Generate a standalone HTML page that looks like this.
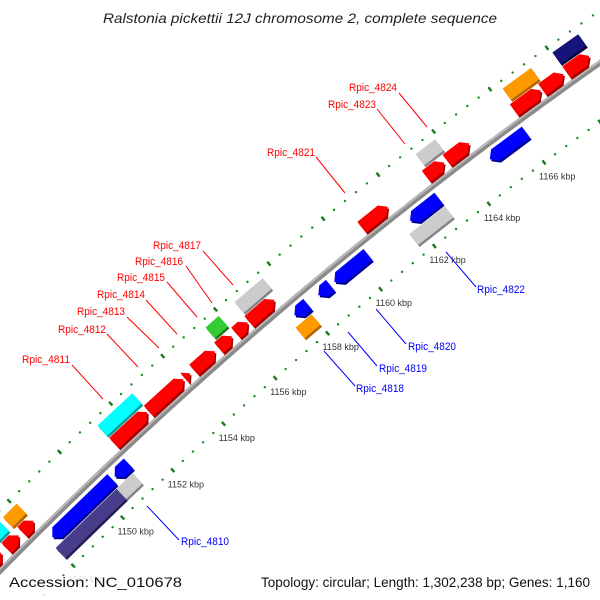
<!DOCTYPE html>
<html><head><meta charset="utf-8"><style>
html,body{margin:0;padding:0;background:#fff;width:600px;height:600px;overflow:hidden;}
svg{display:block;overflow:hidden;font-family:"Liberation Sans","DejaVu Sans",sans-serif;}
</style></head><body>
<svg id="map" width="600" height="600" viewBox="0 0 600 600" xmlns="http://www.w3.org/2000/svg">
<rect width="600" height="600" fill="#fff"/>
<g id="ticks"></g>
<g id="feats"></g>
<g id="labels"></g>
<text x="103" y="23" font-size="14" font-style="italic" fill="#222" textLength="394" lengthAdjust="spacingAndGlyphs">Ralstonia pickettii 12J chromosome 2, complete sequence</text>
<rect x="0" y="576" width="600" height="24" fill="#fff" opacity="0.85"/>
<text x="9" y="587" font-size="14" fill="#111" textLength="173" lengthAdjust="spacingAndGlyphs">Accession: NC_010678</text>
<text x="261" y="587" font-size="14" fill="#111" textLength="329" lengthAdjust="spacingAndGlyphs">Topology: circular; Length: 1,302,238 bp; Genes: 1,160</text>
</svg>
<script>
// ---- data (kbp) ----
const fwdStarts = [1146.0,1147.0,1147.65,1151.3,1152.65,1154.05,1154.4,1155.35,1156.0,1156.5,1160.7,1163.05,1163.8,1166.2,1167.2,1168.05];
const fwdEnds   = [1146.8,1147.5,1148.1,1152.6,1154.0,1154.25,1155.2,1155.85,1156.45,1157.45,1161.65,1163.7,1164.6,1167.15,1167.95,1168.85];
const fwd2Starts = [1146.6,1147.55,1151.3,1155.45,1156.55,1163.2,1166.3,1168.05];
const fwd2Ends   = [1147.4,1148.1,1152.65,1155.95,1157.6,1163.9,1167.3,1168.95];
const fwd2Types  = ["cyan","orange","cyan","green","gray","gray","orange","navy"];
const revStarts = [1148.15,1150.65,1157.6,1158.5,1159.1,1161.9,1164.8,1169.3];
const revEnds   = [1150.55,1151.2,1158.1,1158.95,1160.35,1162.95,1166.1,1170.5];
const rev2Starts = [1148.0,1150.45,1157.4,1161.65];
const rev2Ends   = [1150.5,1151.1,1158.0,1162.95];
const rev2Types  = ["purple","gray","orange","gray"];
const tickKbp = [1148,1150,1152,1154,1156,1158,1160,1162,1164,1166];
const tickLabels = ["1148 kbp","1150 kbp","1152 kbp","1154 kbp","1156 kbp","1158 kbp","1160 kbp","1162 kbp","1164 kbp","1166 kbp"];

// ---- geometry ----
const CX=3091, CY=3612, A0=-133.81, S=0.4606;
function pt(r,k){const a=(A0+S*(k-1150))*Math.PI/180;return [CX+r*Math.cos(a),CY+r*Math.sin(a)];}
const NS="http://www.w3.org/2000/svg";
const colors={red:["#ff0000","#a00000"],blue:["#0000ff","#000090"],cyan:["#00ffff","#009a9a"],orange:["#ff9900","#b06400"],green:["#33cc33","#1d7a1d"],gray:["#cccccc","#858585"],navy:["#14147a","#05053a"],purple:["#473d8b","#241d55"]};
const ticksG=document.getElementById('ticks'),featsG=document.getElementById('feats'),labG=document.getElementById('labels');

let bb=[];for(let k=1143;k<=1172.01;k+=0.25){bb.push(pt(4336,k).map(v=>v.toFixed(1)).join(','));}
const bbDark=document.createElementNS(NS,'polyline');
bbDark.setAttribute('points',bb.join(' '));
bbDark.setAttribute('fill','none');bbDark.setAttribute('stroke','#8a8a8a');bbDark.setAttribute('stroke-width','5.5');


ticksG.appendChild(bbDark);
let bb2=[];for(let k=1143;k<=1172.01;k+=0.25){bb2.push(pt(4337.5,k).map(v=>v.toFixed(1)).join(','));}
const bbLight=document.createElementNS(NS,'polyline');
bbLight.setAttribute('points',bb2.join(' '));
bbLight.setAttribute('fill','none');bbLight.setAttribute('stroke','#b8b8b8');bbLight.setAttribute('stroke-width','2');


ticksG.appendChild(bbLight);

[4288,4379].forEach(function(R){
  for(let k=1144;k<=1172.01;k+=0.4){
    const kk=Math.round(k*10)/10;
    const major=Math.abs(kk/2-Math.round(kk/2))<0.01;
    if(major){
      const a=pt(R-2.5,kk),b=pt(R+2.5,kk);
      const l=document.createElementNS(NS,'line');
      l.setAttribute('x1',a[0]);l.setAttribute('y1',a[1]);l.setAttribute('x2',b[0]);l.setAttribute('y2',b[1]);
      l.setAttribute('stroke','#1a7a1a');l.setAttribute('stroke-width','2.4');
      
      
      ticksG.appendChild(l);
    }else{
      const p=pt(R,kk);
      const c=document.createElementNS(NS,'circle');
      c.setAttribute('cx',p[0]);c.setAttribute('cy',p[1]);c.setAttribute('r','1.2');c.setAttribute('fill','#1a8a1a');
      
      
      ticksG.appendChild(c);
    }
  }
});
tickKbp.forEach(function(k,i){
  const p=pt(4288,k);
  const t=document.createElementNS(NS,'text');
  t.setAttribute('x',p[0]-5);t.setAttribute('y',p[1]+17);
  t.setAttribute('font-size','9');t.setAttribute('fill','#333');
  t.textContent=tickLabels[i];
  
  
  ticksG.appendChild(t);
});

function poly(pts,fill,name){
  const p=document.createElementNS(NS,'polygon');
  p.setAttribute('points',pts.map(q=>q[0].toFixed(1)+','+q[1].toFixed(1)).join(' '));
  p.setAttribute('fill',fill);
  
  
  featsG.appendChild(p);
  return p;
}
function shapePts(s,e,r1,r2,kind){
  const rm=(r1+r2)/2,head=Math.min(0.2,e-s);
  if(kind==='fwd') return [pt(r1,s),pt(r1,e-head),pt(rm,e),pt(r2,e-head),pt(r2,s)];
  if(kind==='rev') return [pt(rm,s),pt(r1,s+head),pt(r1,e),pt(r2,e),pt(r2,s+head)];
  return [pt(r1,s),pt(r1,e),pt(r2,e),pt(r2,s)];
}
function drawFeat(s,e,r1,r2,kind,col,name){
  const pts=shapePts(s,e,r1,r2,kind);
  poly(pts.map(q=>[q[0]+1.5,q[1]+2]),colors[col][1],name+'-shadow');
  poly(pts,colors[col][0],name);
}
fwdStarts.forEach((s,i)=>drawFeat(s,fwdEnds[i],4341,4355,'fwd','red','forward-gene'));
fwd2Starts.forEach((s,i)=>drawFeat(s,fwd2Ends[i],4358,4372,'box',fwd2Types[i],'forward-feature'));
revStarts.forEach((s,i)=>drawFeat(s,revEnds[i],4316,4330,'rev','blue','reverse-gene'));
rev2Starts.forEach((s,i)=>drawFeat(s,rev2Ends[i],4299,4313,'box',rev2Types[i],'reverse-feature'));

const labelDefs=[
 ["Rpic_4811",22,363,72,365,103,399,"#ff0000"],
 ["Rpic_4812",58,333,107,334,138,367,"#ff0000"],
 ["Rpic_4813",77,315,127,317,159,348,"#ff0000"],
 ["Rpic_4814",97,298,146,300,177,334,"#ff0000"],
 ["Rpic_4815",117,281,167,282,197,317,"#ff0000"],
 ["Rpic_4816",135,265,186,266,212,303,"#ff0000"],
 ["Rpic_4817",153,249,203,251,233,285,"#ff0000"],
 ["Rpic_4821",267,156,316,157,345,193,"#ff0000"],
 ["Rpic_4823",328,108,377,109,405,144,"#ff0000"],
 ["Rpic_4824",349,91,399,93,427,127,"#ff0000"],
 ["Rpic_4822",477,293,476,287,446,252,"#0000ff"],
 ["Rpic_4820",408,350,406,344,376,309,"#0000ff"],
 ["Rpic_4819",379,372,377,366,348,332,"#0000ff"],
 ["Rpic_4818",356,392,355,386,324,351,"#0000ff"],
 ["Rpic_4810",181,545,179,540,147,506,"#0000ff"]
];
labelDefs.forEach(function(d){
  const l=document.createElementNS(NS,'line');
  l.setAttribute('x1',d[3]);l.setAttribute('y1',d[4]);l.setAttribute('x2',d[5]);l.setAttribute('y2',d[6]);
  l.setAttribute('stroke',d[7]);l.setAttribute('stroke-width','1');
  
  
  labG.appendChild(l);
  const t=document.createElementNS(NS,'text');
  t.setAttribute('x',d[1]);t.setAttribute('y',d[2]);
  t.setAttribute('font-size','11');t.setAttribute('fill',d[7]);
  t.setAttribute('textLength','48');
  t.setAttribute('lengthAdjust','spacingAndGlyphs');
  t.textContent=d[0];
  
  
  labG.appendChild(t);
});
</script>
</body></html>
